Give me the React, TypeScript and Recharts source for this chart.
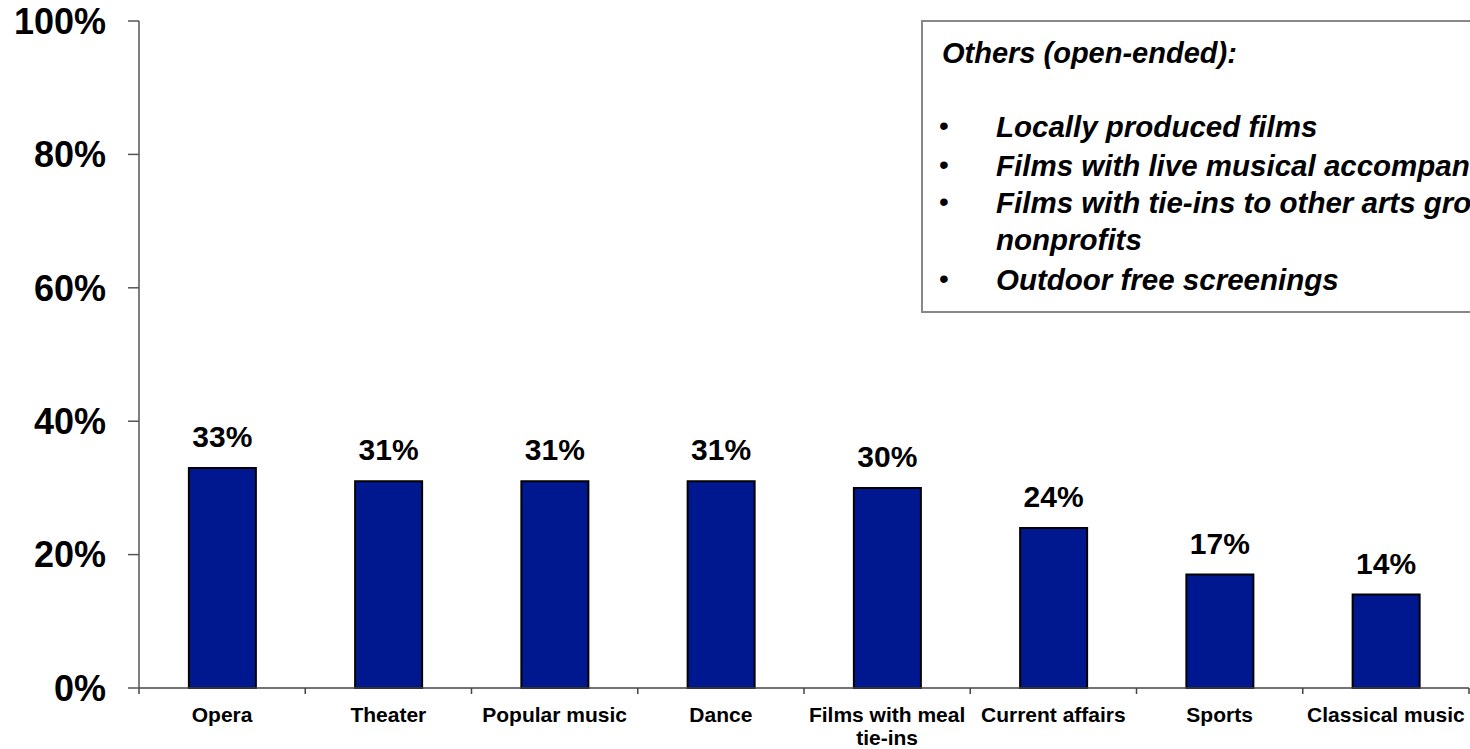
import React from "react";
import { BarChart, Bar, XAxis, YAxis, LabelList } from "recharts";

const categories = [
  "Opera",
  "Theater",
  "Popular music",
  "Dance",
  "Films with meal tie-ins",
  "Current affairs",
  "Sports",
  "Classical music",
];
const values = [33, 31, 31, 31, 30, 24, 17, 14];
const yTicks = [0, 20, 40, 60, 80, 100];
const frameTicks = [0, 1, 2, 3, 4, 5, 6, 7, 8];

const noteTitle = "Others (open-ended):";
const noteItems: string[][] = [
  ["Locally produced films"],
  ["Films with live musical accompaniment"],
  ["Films with tie-ins to other arts groups and", "nonprofits"],
  ["Outdoor free screenings"],
];

const data = categories.map((c, i) => ({ name: c, value: values[i], pos: i + 0.5 }));

const FONT = "Arial, 'Liberation Sans', Helvetica, sans-serif";

function wrap(text: string, max: number): string[] {
  const words = text.split(" ");
  const lines: string[] = [];
  let cur = "";
  for (const w of words) {
    const next = cur ? cur + " " + w : w;
    if (next.length > max && cur) {
      lines.push(cur);
      cur = w;
    } else {
      cur = next;
    }
  }
  if (cur) lines.push(cur);
  return lines;
}

const CatTick = (props: any) => {
  const { x, y, payload } = props;
  const lines = wrap(String(payload.value), 15);
  return (
    <text
      x={x}
      y={y}
      textAnchor="middle"
      fontSize={21}
      fontWeight="bold"
      fill="#000"
      fontFamily={FONT}
    >
      {lines.map((l, i) => (
        <tspan key={i} x={x} dy={i === 0 ? 16 : 23}>
          {l}
        </tspan>
      ))}
    </text>
  );
};

export default function App() {
  const itemBaselines = [137, 176, 213, 290];
  return (
    <div
      style={{
        position: "absolute",
        left: 0,
        top: 0,
        width: 1470,
        height: 749,
        overflow: "hidden",
        background: "#fff",
        fontFamily: FONT,
      }}
    >
      <BarChart
        width={1470}
        height={749}
        data={data}
        margin={{ top: 21, right: 1, bottom: 0, left: 0 }}
        barCategoryGap="30%"
      >
        <XAxis
          xAxisId="b-cat"
          dataKey="name"
          type="category"
          height={60}
          axisLine={false}
          tickLine={false}
          tickSize={0}
          tickMargin={17}
          interval={0}
          tick={<CatTick />}
        />
        <XAxis
          xAxisId="a-frame"
          dataKey="pos"
          type="number"
          domain={[0, 8]}
          ticks={frameTicks}
          allowDataOverflow
          height={1}
          tickFormatter={() => ""}
          tickSize={6}
          axisLine={{ stroke: "#444", strokeWidth: 1.5 }}
          tickLine={{ stroke: "#444", strokeWidth: 1.5 }}
        />
        <YAxis
          domain={[0, 100]}
          ticks={yTicks}
          width={139}
          tickSize={11}
          tickMargin={22}
          tickFormatter={(v: number) => `${v}%`}
          axisLine={{ stroke: "#555", strokeWidth: 1.5 }}
          tickLine={{ stroke: "#555", strokeWidth: 1.5 }}
          tick={{ fontSize: 36, fontWeight: "bold", fill: "#000", fontFamily: FONT }}
        />
        <Bar
          xAxisId="b-cat"
          dataKey="value"
          fill="#00188F"
          stroke="#000"
          strokeWidth={2}
          isAnimationActive={false}
        >
          <LabelList
            dataKey="value"
            position="top"
            offset={21}
            formatter={(v: any) => `${v}%`}
            style={{ fontSize: 30, fontWeight: "bold", fill: "#000", fontFamily: FONT }}
          />
        </Bar>
      </BarChart>
      <svg
        width={1470}
        height={749}
        style={{ position: "absolute", left: 0, top: 0, pointerEvents: "none" }}
      >
        <rect x={922} y={21} width={620} height={291} fill="#fff" stroke="#888" strokeWidth={2} />
        <text
          x={942}
          y={63}
          fontSize={29}
          fontWeight="bold"
          fontStyle="italic"
          fill="#000"
          fontFamily={FONT}
        >
          {noteTitle}
        </text>
        {noteItems.map((lines, i) => (
          <g key={i}>
            <text x={939} y={itemBaselines[i] - 2} fontSize={28} fill="#000" fontFamily={FONT}>
              •
            </text>
            <text
              x={996}
              y={itemBaselines[i]}
              fontSize={29.5}
              fontWeight="bold"
              fontStyle="italic"
              fill="#000"
              fontFamily={FONT}
            >
              {lines.map((l, j) => (
                <tspan key={j} x={996} dy={j === 0 ? 0 : 37}>
                  {l}
                </tspan>
              ))}
            </text>
          </g>
        ))}
      </svg>
    </div>
  );
}
